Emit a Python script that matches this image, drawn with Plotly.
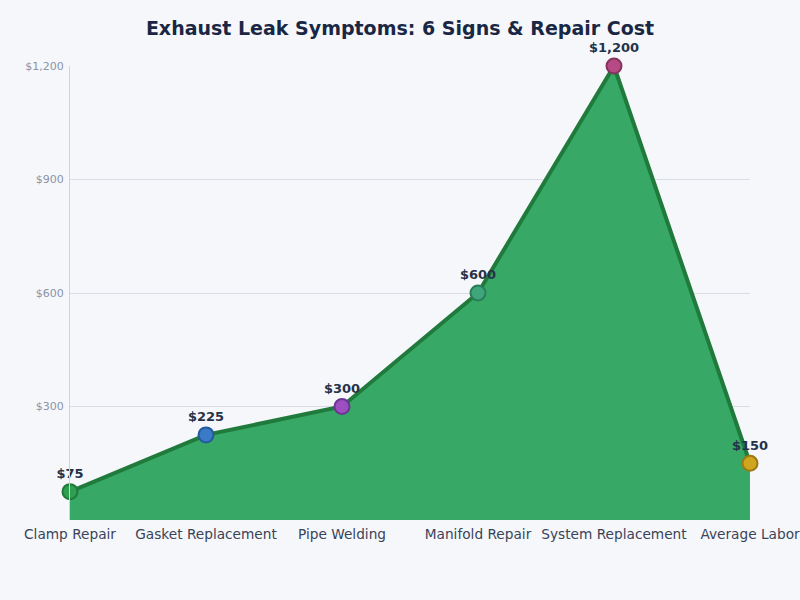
import plotly.graph_objects as go

categories = ["Clamp Repair", "Gasket Replacement", "Pipe Welding",
              "Manifold Repair", "System Replacement", "Average Labor"]
costs = [75, 225, 300, 600, 1200, 150]
point_colors = ["#2e9e4f", "#3a7bc8", "#9b4fc1", "#3fa57a", "#b54a84", "#d0a61e"]
border_colors = ["#1f7a3c", "#245a9c", "#6d3592", "#2a7d5a", "#85335f", "#9c7a12"]
tick_vals = [300, 600, 900, 1200]
tick_text = ["$300", "$600", "$900", "$1,200"]

fig = go.Figure()

# filled area under the cost line
fig.add_trace(go.Scatter(
    x=categories,
    y=costs,
    mode="lines",
    fill="tozeroy",
    fillcolor="#37a865",
    line=dict(color="#1f7a3c", width=4),
    showlegend=False,
    hoverinfo="skip"))

fig.add_trace(go.Scatter(
    x=categories,
    y=costs,
    mode="markers+text",
    marker=dict(size=15, color=point_colors, line=dict(color=border_colors, width=2)),
    text=["$" + format(c, ",") for c in costs],
    textposition="top center",
    textfont=dict(family="DejaVu Sans", size=13, color="#263248", weight="bold"),
    showlegend=False,
    cliponaxis=False))

fig.update_layout(
    title=dict(text="<b>Exhaust Leak Symptoms: 6 Signs & Repair Cost</b>",
               x=0.5, y=0.953, xanchor="center", yanchor="middle",
               font=dict(family="DejaVu Sans", size=19, color="#1a2744")),
    width=800, height=600,
    margin=dict(l=70, r=50, t=66, b=80),
    paper_bgcolor="#f5f7fb",
    plot_bgcolor="#f5f7fb",
    font=dict(family="DejaVu Sans"))

fig.update_xaxes(
    showgrid=False,
    showline=False,
    zeroline=False,
    automargin=False,
    range=[0, 5],
    ticks="outside",
    ticklen=2,
    tickcolor="rgba(0,0,0,0)",
    tickfont=dict(size=13.7, color="#3a4358"))

fig.update_yaxes(
    range=[0, 1200],
    tickvals=tick_vals,
    ticktext=tick_text,
    showgrid=True,
    gridcolor="#d9dde5",
    zeroline=False,
    showline=True,
    linecolor="#cfd4dc",
    linewidth=1,
    automargin=False,
    ticks="outside",
    ticklen=3,
    tickcolor="rgba(0,0,0,0)",
    tickfont=dict(size=11, color="#8a94a6"))

fig.write_html("out.html", config={"displayModeBar": False},
               post_script="document.body.style.margin='0';")
